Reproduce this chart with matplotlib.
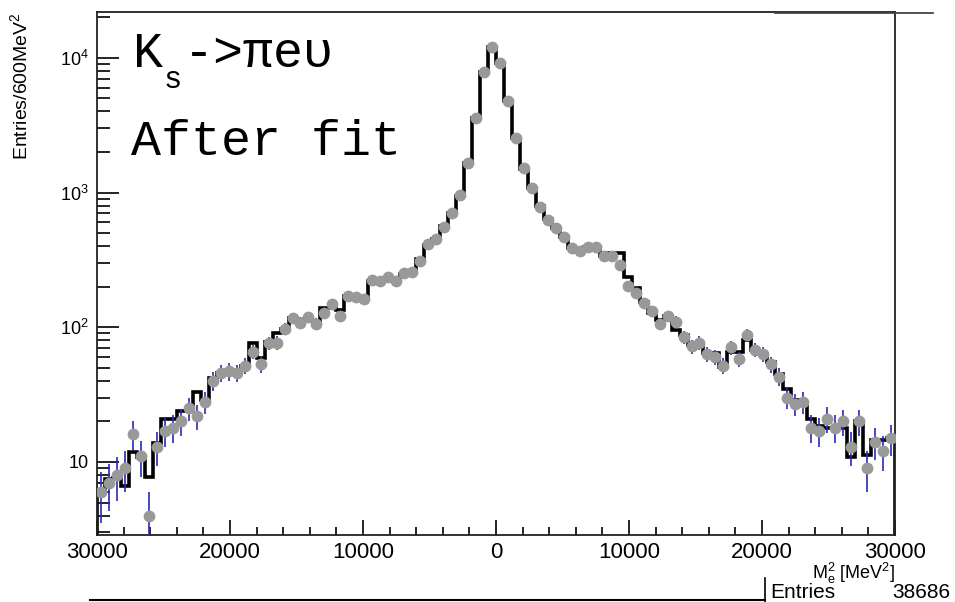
import numpy as np
import matplotlib
matplotlib.use("Agg")
import matplotlib.pyplot as plt
from matplotlib.ticker import FixedLocator, FixedFormatter, MultipleLocator, NullFormatter
from matplotlib.lines import Line2D

plt.rcParams["font.family"] = ["Liberation Sans", "DejaVu Sans"]
plt.rcParams["mathtext.fontset"] = "custom"
plt.rcParams["mathtext.rm"] = "Liberation Sans"
plt.rcParams["mathtext.it"] = "Liberation Sans:italic"
plt.rcParams["mathtext.default"] = "regular"

# missing-mass squared, 100 bins of 600 MeV^2
x_lo, x_hi, n_bins = -30000, 30000, 100

data = [6, 7, 8, 9, 16, 11, 4, 13, 17, 18,
        20, 25, 22, 28, 40, 46, 47, 46, 52, 66,
        53, 76, 77, 97, 117, 108, 119, 106, 128, 148,
        122, 172, 169, 161, 224, 222, 235, 222, 254, 258,
        312, 413, 450, 555, 700, 955, 1650, 3560, 7900, 12000,
        9200, 4810, 2530, 1515, 1075, 786, 630, 546, 471, 386,
        371, 393, 393, 338, 336, 290, 203, 181, 152, 131,
        105, 121, 110, 84, 72, 77, 63, 60, 52, 71,
        58, 88, 68, 63, 53, 43, 30, 27, 28, 18,
        17, 21, 18, 20, 13, 20, 9, 14, 12, 15]

fit = [6.0, 7.5, 7.6, 6.6, 11.9, 10.9, 7.8, 13.8, 21, 21,
       24, 24, 33, 29, 42, 46, 47, 47, 52, 76,
       59, 78, 90, 97, 117, 110, 115, 112, 140, 140,
       135, 170, 168, 165, 222, 222, 230, 228, 250, 262,
       320, 410, 455, 560, 700, 950, 1650, 3560, 7900, 12000,
       9200, 4800, 2530, 1500, 1080, 790, 640, 550, 470, 390,
       375, 395, 395, 340, 355, 355, 237, 195, 155, 128,
       113, 121, 95, 88, 74, 74, 64, 64, 51, 65,
       65, 81, 68, 63, 55, 45, 35, 29, 27, 21,
       18.5, 18, 18, 18, 10.9, 20, 11.3, 14.6, 14.6, 15]

x_ticks = [-30000, -20000, -10000, 0, 10000, 20000, 30000]
x_tick_labels = ["30000", "20000", "10000", "0", "10000", "20000", "30000"]
y_ticks = [10, 100, 1000, 10000]
y_tick_labels = ["10", "10$^{2}$", "10$^{3}$", "10$^{4}$"]
n_entries = 38686

W, H = 955, 602
fig = plt.figure(figsize=(W / 100, H / 100), dpi=100)
ax = fig.add_axes([97 / W, 1 - 535 / H, (895 - 97) / W, (535 - 12) / H])

edges = np.linspace(x_lo, x_hi, n_bins + 1)
centers = 0.5 * (edges[:-1] + edges[1:])
counts = np.array(data, dtype=float)

ax.stairs(fit, edges, color="black", lw=2.6, zorder=2)
ax.errorbar(centers, counts, yerr=np.sqrt(counts), fmt="none",
            ecolor="#2a2ab8", elinewidth=1.2, capsize=0, zorder=3)
ax.plot(centers, counts, "o", color="#999999", ms=8.5, mec="none", zorder=4)

ax.set_yscale("log")
ax.set_xlim(x_lo, x_hi)
ax.set_ylim(2.87, 21900)

ax.xaxis.set_major_locator(FixedLocator(x_ticks))
ax.xaxis.set_major_formatter(FixedFormatter(x_tick_labels))
ax.xaxis.set_minor_locator(MultipleLocator(2000))
ax.yaxis.set_major_locator(FixedLocator(y_ticks))
ax.yaxis.set_major_formatter(FixedFormatter(y_tick_labels))
minor_y = [m * 10 ** e for e in range(0, 5) for m in range(2, 10)]
ax.yaxis.set_minor_locator(FixedLocator(minor_y))
ax.yaxis.set_minor_formatter(NullFormatter())

ax.tick_params(axis="x", which="major", direction="in", length=11, width=1.2,
               labelsize=16, pad=5)
ax.tick_params(axis="x", which="minor", direction="in", length=6, width=1.2)
ax.tick_params(axis="y", which="major", direction="in", length=16, width=1.2,
               labelsize=13, pad=6)
ax.tick_params(axis="y", which="minor", direction="in", length=9, width=1.2)
for s in ax.spines.values():
    s.set_linewidth(1.3)
    s.set_color("#222222")

ax.set_ylabel("Entries/600MeV$^{2}$", fontsize=14, loc="top")
ax.yaxis.set_label_coords(-0.082, 1.0)
ax.set_xlabel("M$_{e}^{2}$ [MeV$^{2}$]", fontsize=13, loc="right")
ax.xaxis.set_label_coords(1.0, -0.05)

# channel label
mono = ["Liberation Mono", "DejaVu Sans Mono"]
fig.text(133 / W, 1 - 67 / H, "K", fontsize=36, family=mono, va="baseline")
fig.text(164 / W, 1 - 88 / H, "s", fontsize=22, family=mono, va="baseline")
fig.text(184 / W, 1 - 67 / H, "->πeυ", fontsize=36, family=mono, va="baseline")
fig.text(131 / W, 1 - 155 / H, "After fit", fontsize=36, family=mono, va="baseline")

# stats box remnants
fig.add_artist(Line2D([775 / W, 933 / W], [1 - 13 / H, 1 - 13 / H],
                      color="#444444", lw=1.3))
fig.add_artist(Line2D([90 / W, 765 / W], [1 - 600 / H, 1 - 600 / H],
                      color="black", lw=1.5))
fig.add_artist(Line2D([765 / W, 765 / W], [1 - 578 / H, 1 - 602 / H],
                      color="black", lw=1.2))
fig.text(770 / W, 1 - 593 / H, "Entries", fontsize=15, va="center")
fig.text(950 / W, 1 - 593 / H, str(n_entries), fontsize=15, va="center", ha="right")

fig.savefig("out.png", dpi=100)
